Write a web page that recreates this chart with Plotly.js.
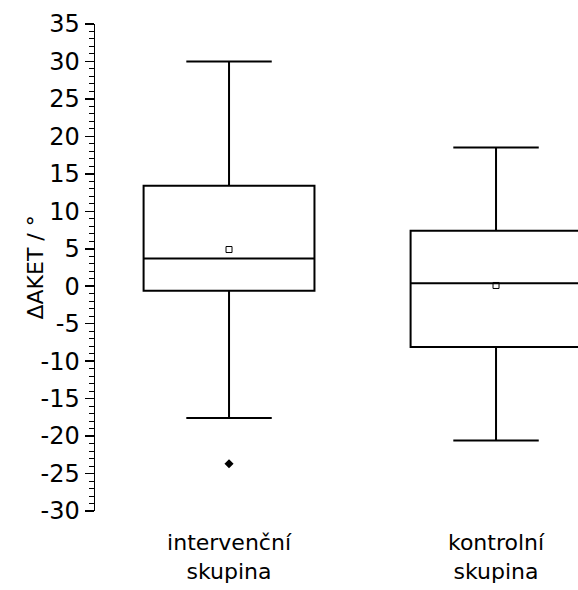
<!DOCTYPE html>
<html>
<head>
<meta charset="utf-8">
<script src="https://cdn.plot.ly/plotly-3.0.1.min.js"></script>
<style>html,body{margin:0;padding:0;background:#fff;}#chart{width:578px;height:590px;}</style>
</head>
<body>
<div id="chart"></div>
<script>
var categories = ["intervenční skupina", "kontrolní skupina"];
var tickLabels = ["intervenční<br>skupina", "kontrolní<br>skupina"];
var q1Values = [-0.6, -8.1];
var medianValues = [3.7, 0.4];
var q3Values = [13.4, 7.4];
var lowerWhisker = [-17.6, -20.6];
var upperWhisker = [30, 18.5];
var meanValues = [4.9, 0.1];
var outlierCategories = ["intervenční skupina"];
var outlierValues = [-23.7];
var yTickValues = [-30, -25, -20, -15, -10, -5, 0, 5, 10, 15, 20, 25, 30, 35];
var yTickLabels = ["-30", "-25", "-20", "-15", "-10", "-5", "0", "5", "10", "15", "20", "25", "30", "35"];
var yTitle = "ΔAKET / °";

var fontFam = "DejaVu Sans, Liberation Sans, Arial, sans-serif";

var traces = [
  {
    type: "box",
    x: categories,
    q1: q1Values,
    median: medianValues,
    q3: q3Values,
    lowerfence: lowerWhisker,
    upperfence: upperWhisker,
    width: 0.64,
    whiskerwidth: 0.5,
    fillcolor: "rgba(255,255,255,0)",
    line: {color: "#000", width: 2},
    boxpoints: false,
    hoverinfo: "skip",
    showlegend: false
  },
  {
    type: "scatter",
    mode: "markers",
    x: categories,
    y: meanValues,
    marker: {symbol: "square-open", size: 6, color: "#000", line: {width: 1, color: "#000"}},
    showlegend: false
  },
  {
    type: "scatter",
    mode: "markers",
    x: outlierCategories,
    y: outlierValues,
    marker: {symbol: "diamond", size: 7, color: "#000"},
    showlegend: false
  }
];

var layout = {
  width: 578,
  height: 590,
  margin: {l: 95, r: 0, t: 24, b: 79},
  paper_bgcolor: "#fff",
  plot_bgcolor: "#fff",
  font: {family: fontFam, color: "#000", size: 23},
  xaxis: {
    type: "category",
    range: [-0.502, 1.307],
    tickvals: categories,
    ticktext: tickLabels,
    showline: false,
    showgrid: false,
    zeroline: false,
    ticks: "outside",
    ticklen: 12,
    tickcolor: "rgba(0,0,0,0)",
    tickfont: {family: fontFam, size: 22, color: "#000"}
  },
  yaxis: {
    range: [-30, 35],
    tickvals: yTickValues,
    ticktext: yTickLabels,
    showline: true,
    linecolor: "#000",
    linewidth: 1.5,
    showgrid: false,
    zeroline: false,
    ticks: "outside",
    ticklen: 9,
    tickwidth: 1.5,
    tickcolor: "#000",
    tickfont: {family: fontFam, size: 24, color: "#000"},
    minor: {dtick: 1, tick0: 0, ticks: "outside", ticklen: 5, tickwidth: 1, tickcolor: "#000", showgrid: false}
  },
  annotations: [
    {
      text: yTitle,
      xref: "paper", yref: "paper",
      x: (35 - 95) / 483, y: 0.5,
      xanchor: "center", yanchor: "middle",
      textangle: -90,
      showarrow: false,
      font: {family: fontFam, size: 22, color: "#000"}
    }
  ]
};

Plotly.newPlot("chart", traces, layout, {displayModeBar: false, staticPlot: true});
</script>
</body>
</html>
